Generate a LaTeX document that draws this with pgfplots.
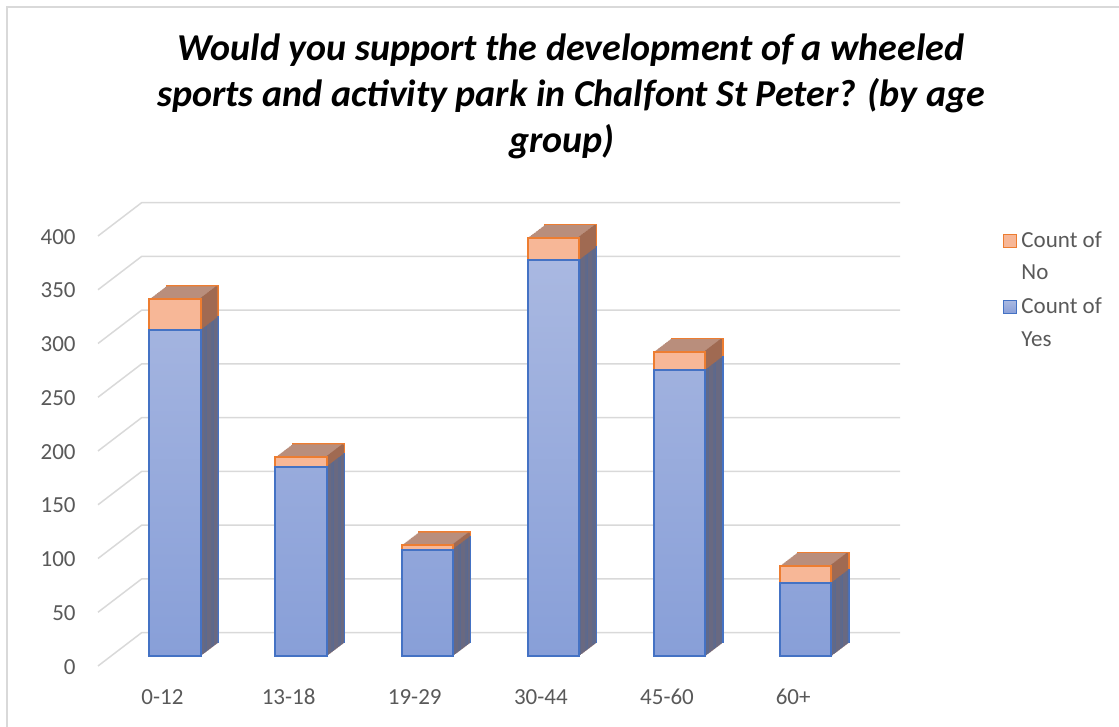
\documentclass[border=0pt]{standalone}
\usepackage{fontspec}
\setmainfont{Carlito}
\usepackage{pgfplots}
\usepackage{pgfplotstable}
\pgfplotsset{compat=1.18}
\definecolor{gridgray}{HTML}{D9D9D9}
\definecolor{txtgray}{HTML}{595959}
\definecolor{blueedge}{HTML}{4472C4}
\definecolor{bluetop}{HTML}{A9B8E1}
\definecolor{bluebot}{HTML}{889FD8}
\definecolor{blueside}{HTML}{5A6990}
\definecolor{orangeedge}{HTML}{ED7D31}
\definecolor{orangefront}{HTML}{F7B797}
\definecolor{orangetop}{HTML}{B98E7C}
\definecolor{orangeside}{HTML}{A06A52}

\pgfplotstableread{
x yes total
0 303 332
1 176 185
2 99 103
3 368 389
4 266 283
5 68 84
}\datatable

\begin{document}
\begin{tikzpicture}
\useasboundingbox (0,0) rectangle (559.5pt,363.5pt);
\draw[gridgray, line width=0.75pt] (3.5pt,0) -- (3.5pt,360pt) -- (559.5pt,360pt);
\node[anchor=base, font=\fontsize{19}{23}\selectfont\bfseries\itshape] at (285.5pt,333.2pt) {Would you support the development of a wheeled};
\node[anchor=base, font=\fontsize{19}{23}\selectfont\bfseries\itshape] at (285.5pt,310.2pt) {sports and activity park in Chalfont St Peter? (by age};
\node[anchor=base, font=\fontsize{19}{23}\selectfont\bfseries\itshape] at (281pt,287.2pt) {group)};
\begin{axis}[
  at={(55.5pt,35.5pt)}, anchor=south west, scale only axis,
  width=379.2pt, height=215pt,
  xmin=-0.507, xmax=5.505, ymin=0, ymax=400,
  clip=false,
  axis line style={draw=none}, major tick length=0pt,
  xtick={0,1,2,3,4,5}, xticklabels={0-12,13-18,19-29,30-44,45-60,60+},
  ytick={0,50,100,150,200,250,300,350,400},
  tick label style={font=\fontsize{11.5}{13}\selectfont, text=txtgray},
  yticklabel style={anchor=east, inner sep=0pt, xshift=-17.5pt, yshift=-5.35pt},
  xticklabel style={anchor=center, inner sep=0pt, yshift=-20.5pt, xshift=-6.25pt},
  /pgf/number format/assume math mode=true,
  legend style={draw=none, fill=none, inner sep=0pt, at={(1.176,1.0)}, anchor=north west,
    font=\fontsize{11.5}{13}\selectfont, text=txtgray, row sep=2.5pt,
    nodes={inner ysep=2.5pt}},
  legend cell align=left,
]
\pgfplotsinvokeforeach{0,50,100,150,200,250,300,350,400}{
  \draw[gridgray, line width=0.75pt] ([shift={(-6.5pt,-5pt)}]axis cs:-0.507,#1) -- ([shift={(15.3pt,11.65pt)}]axis cs:-0.507,#1) -- ([shift={(15.3pt,11.65pt)}]axis cs:5.505,#1);
}
\addplot[ybar, bar width=25.7pt, bar shift=0pt, fill=orangetop, draw=orangeedge, line width=0.75pt, forget plot,
    xshift=20*0.4375pt, yshift=20*0.3325pt] table[x=x,y=total]{\datatable};
\pgfplotsinvokeforeach{19,18,17,16,15,14,13,12,11,10,9,8,7,6,5,4,3,2,1}{
  \addplot[ybar, bar width=25.7pt, bar shift=0pt, fill=orangetop, draw=none, forget plot,
    xshift=#1*0.4375pt, yshift=#1*0.3325pt] table[x=x,y=total]{\datatable};
}
\addplot[ybar, bar width=1pt, bar shift=12.35pt, fill=orangeside, draw=orangeedge, line width=0.75pt, forget plot,
    xshift=20*0.4375pt, yshift=20*0.3325pt] table[x=x,y=total]{\datatable};
\addplot[ybar, bar width=1pt, bar shift=12.35pt, fill=blueside, draw=blueedge, line width=0.75pt, forget plot,
    xshift=20*0.4375pt, yshift=20*0.3325pt] table[x=x,y=yes]{\datatable};
\pgfplotsinvokeforeach{19,18,17,16,15,14,13,12,11,10,9,8,7,6,5,4,3,2,1}{
  \addplot[ybar, bar width=1pt, bar shift=12.35pt, fill=orangeside, draw=none, forget plot,
    xshift=#1*0.4375pt, yshift=#1*0.3325pt] table[x=x,y=total]{\datatable};
  \addplot[ybar, bar width=1pt, bar shift=12.35pt, fill=blueside, draw=none, forget plot,
    xshift=#1*0.4375pt, yshift=#1*0.3325pt] table[x=x,y=yes]{\datatable};
}
\addplot[ybar, bar width=25.7pt, bar shift=0pt, fill=orangefront, draw=orangeedge, line width=1pt,
  legend image code/.code={\draw[fill=orangefront, draw=orangeedge, line width=0.6pt] (0pt,-3.25pt) rectangle (6.5pt,3.25pt);}]
  table[x=x,y=total]{\datatable};
\addlegendentry{Count of}
\addlegendimage{empty legend}
\addlegendentry{No}
\addplot[ybar, bar width=25.7pt, bar shift=0pt, top color=bluetop, bottom color=bluebot, draw=blueedge, line width=1pt,
  legend image code/.code={\draw[fill=bluetop, draw=blueedge, line width=0.6pt] (0pt,-3.25pt) rectangle (6.5pt,3.25pt);}]
  table[x=x,y=yes]{\datatable};
\addlegendentry{Count of}
\addlegendimage{empty legend}
\addlegendentry{Yes}
\end{axis}
\end{tikzpicture}
\end{document}
